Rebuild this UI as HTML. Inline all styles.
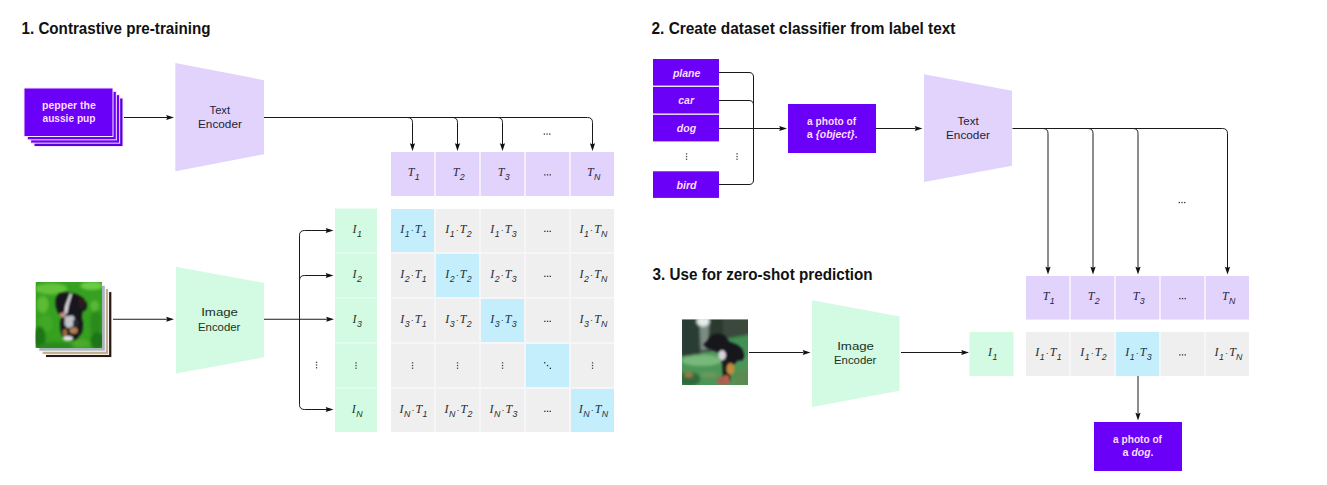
<!DOCTYPE html><html><head><meta charset="utf-8"><style>
html,body{margin:0;padding:0;background:#fff;}
svg{display:block;}
text{font-family:"Liberation Sans",sans-serif;}
.title{font-weight:bold;font-size:15.2px;fill:#111;}
.title2{font-weight:bold;font-size:15.2px;fill:#111;letter-spacing:0.17px;}
.enc{font-size:11.5px;fill:#241d34;}
#ie1a,#ie1b,#ie3a,#ie3b{fill:#1a3322;}
.wb{font-weight:bold;font-size:10.4px;fill:#fadcff;}
.wbi{font-weight:bold;font-style:italic;font-size:10.4px;fill:#fadcff;}
.math{font-family:"Liberation Serif",serif;font-style:italic;font-size:12px;}
.sub{font-family:"Liberation Sans",sans-serif;font-size:8.8px;}
.dot{font-family:"Liberation Sans",sans-serif;font-style:normal;font-size:9px;letter-spacing:0.5px;}
.dots{font-size:9px;fill:#333;}
.vdots{font-size:10px;fill:#333;}
.ln{stroke:#1a1a1a;stroke-width:1;fill:none;}
.ah{fill:#111;}
</style></head><body>
<svg width="1327" height="485" viewBox="0 0 1327 485">
<rect width="1327" height="485" fill="#fff"/>
<text id="t1" x="116.00" y="33.70" class="title" text-anchor="middle" style="font-size:15.8px" textLength="189.00" lengthAdjust="spacingAndGlyphs">1. Contrastive pre-training</text>
<rect x="33.99" y="97.99" width="89" height="48.5" fill="#5a00d8" stroke="#fbe8ff" stroke-width="1"/>
<rect x="30.66" y="94.66" width="89" height="48.5" fill="#6a00f7" stroke="#fbe8ff" stroke-width="1"/>
<rect x="27.33" y="91.33" width="89" height="48.5" fill="#6a00f7" stroke="#fbe8ff" stroke-width="1"/>
<rect x="24.00" y="88.00" width="89" height="48.5" fill="#6a00f7" stroke="#fbe8ff" stroke-width="1"/>
<text id="pp1" x="69.00" y="109.20" class="wb" text-anchor="middle" style="font-size:10.8px" textLength="53.80" lengthAdjust="spacingAndGlyphs">pepper the</text>
<text id="pp2" x="69.00" y="122.40" class="wb" text-anchor="middle" style="font-size:10.8px" textLength="53.00" lengthAdjust="spacingAndGlyphs">aussie pup</text>
<line x1="124" y1="117.5" x2="167" y2="117.5" class="ln"/>
<path d="M174,117.5 L166.2,114.9 L167.2,117.5 L166.2,120.1 Z" class="ah"/>
<path d="M175.3,63.00000000000001 L264.0,80.15 L264.0,154.15 L175.3,171.3 Z" fill="#e1d3fc"/>
<text id="te1a" x="219.80" y="113.50" class="enc" text-anchor="middle" style="font-size:11.7px" textLength="20.40" lengthAdjust="spacingAndGlyphs">Text</text>
<text id="te1b" x="219.95" y="127.80" class="enc" text-anchor="middle" style="font-size:11.7px" textLength="43.90" lengthAdjust="spacingAndGlyphs">Encoder</text>
<path d="M264,117.5 L587.5,117.5 Q592.5,117.5 592.5,122.5 L592.5,145" class="ln"/>
<path d="M407.5,117.5 Q412.5,117.5 412.5,122.5 L412.5,145" class="ln"/>
<path d="M452.5,117.5 Q457.5,117.5 457.5,122.5 L457.5,145" class="ln"/>
<path d="M497.5,117.5 Q502.5,117.5 502.5,122.5 L502.5,145" class="ln"/>
<path d="M412.5,151 L409.9,143.2 L412.5,144.2 L415.1,143.2 Z" class="ah"/>
<path d="M457.5,151 L454.9,143.2 L457.5,144.2 L460.1,143.2 Z" class="ah"/>
<path d="M502.5,151 L499.9,143.2 L502.5,144.2 L505.1,143.2 Z" class="ah"/>
<path d="M592.5,151 L589.9,143.2 L592.5,144.2 L595.1,143.2 Z" class="ah"/>
<rect x="543.70" y="133.40" width="1.3" height="1.3" fill="#333"/>
<rect x="546.40" y="133.40" width="1.3" height="1.3" fill="#333"/>
<rect x="549.10" y="133.40" width="1.3" height="1.3" fill="#333"/>
<rect x="391" y="152" width="223" height="44" fill="#f4effd"/>
<rect x="391" y="152" width="43" height="44" fill="#e1d3fc"/>
<g fill="#2b2342"><text x="413.7" y="176.4" class="math" text-anchor="middle">T<tspan dy="3.8" dx="0.3" class="sub">1</tspan></text></g>
<rect x="436" y="152" width="43" height="44" fill="#e1d3fc"/>
<g fill="#2b2342"><text x="458.7" y="176.4" class="math" text-anchor="middle">T<tspan dy="3.8" dx="0.3" class="sub">2</tspan></text></g>
<rect x="481" y="152" width="43" height="44" fill="#e1d3fc"/>
<g fill="#2b2342"><text x="503.7" y="176.4" class="math" text-anchor="middle">T<tspan dy="3.8" dx="0.3" class="sub">3</tspan></text></g>
<rect x="526" y="152" width="43" height="44" fill="#e1d3fc"/>
<rect x="544.20" y="174.20" width="1.3" height="1.3" fill="#333"/>
<rect x="546.90" y="174.20" width="1.3" height="1.3" fill="#333"/>
<rect x="549.60" y="174.20" width="1.3" height="1.3" fill="#333"/>
<rect x="571" y="152" width="43" height="44" fill="#e1d3fc"/>
<g fill="#2b2342"><text x="593.7" y="176.4" class="math" text-anchor="middle">T<tspan dy="3.8" dx="0.3" class="sub">N</tspan></text></g>
<rect x="335" y="208.5" width="42" height="223.5" fill="#d3fae3"/>
<rect x="335" y="252.3" width="42" height="1.2" fill="#eafdf1"/>
<rect x="335" y="297.3" width="42" height="1.2" fill="#eafdf1"/>
<rect x="335" y="342.3" width="42" height="1.2" fill="#eafdf1"/>
<rect x="335" y="387.3" width="42" height="1.2" fill="#eafdf1"/>
<g fill="#1c3526"><text x="357.2" y="232.9" class="math" text-anchor="middle">I<tspan dy="3.8" dx="0.6" class="sub">1</tspan></text></g>
<g fill="#1c3526"><text x="357.2" y="277.9" class="math" text-anchor="middle">I<tspan dy="3.8" dx="0.6" class="sub">2</tspan></text></g>
<g fill="#1c3526"><text x="357.2" y="322.9" class="math" text-anchor="middle">I<tspan dy="3.8" dx="0.6" class="sub">3</tspan></text></g>
<rect x="355.40" y="362.20" width="1.3" height="1.3" fill="#444"/>
<rect x="355.40" y="364.90" width="1.3" height="1.3" fill="#444"/>
<rect x="355.40" y="367.60" width="1.3" height="1.3" fill="#444"/>
<g fill="#1c3526"><text x="357.2" y="412.9" class="math" text-anchor="middle">I<tspan dy="3.8" dx="0.6" class="sub">N</tspan></text></g>
<rect x="391" y="209" width="223" height="223" fill="#f6f6f8"/>
<rect x="391" y="209" width="43" height="43" fill="#c5eefd"/>
<g fill="#15323f"><text x="413.5" y="232.9" class="math" text-anchor="middle">I<tspan dy="3.8" dx="0.4" class="sub">1</tspan><tspan dy="-3.8" dx="1.2" class="dot">·</tspan><tspan dx="0.6">T</tspan><tspan dy="3.8" dx="0.3" class="sub">1</tspan></text></g>
<rect x="436" y="209" width="43" height="43" fill="#efefef"/>
<g fill="#2a2a2e"><text x="458.5" y="232.9" class="math" text-anchor="middle">I<tspan dy="3.8" dx="0.4" class="sub">1</tspan><tspan dy="-3.8" dx="1.2" class="dot">·</tspan><tspan dx="0.6">T</tspan><tspan dy="3.8" dx="0.3" class="sub">2</tspan></text></g>
<rect x="481" y="209" width="43" height="43" fill="#efefef"/>
<g fill="#2a2a2e"><text x="503.5" y="232.9" class="math" text-anchor="middle">I<tspan dy="3.8" dx="0.4" class="sub">1</tspan><tspan dy="-3.8" dx="1.2" class="dot">·</tspan><tspan dx="0.6">T</tspan><tspan dy="3.8" dx="0.3" class="sub">3</tspan></text></g>
<rect x="526" y="209" width="43" height="43" fill="#efefef"/>
<rect x="544.20" y="230.70" width="1.3" height="1.3" fill="#333"/>
<rect x="546.90" y="230.70" width="1.3" height="1.3" fill="#333"/>
<rect x="549.60" y="230.70" width="1.3" height="1.3" fill="#333"/>
<rect x="571" y="209" width="43" height="43" fill="#efefef"/>
<g fill="#2a2a2e"><text x="593.5" y="232.9" class="math" text-anchor="middle">I<tspan dy="3.8" dx="0.4" class="sub">1</tspan><tspan dy="-3.8" dx="1.2" class="dot">·</tspan><tspan dx="0.6">T</tspan><tspan dy="3.8" dx="0.3" class="sub">N</tspan></text></g>
<rect x="391" y="254" width="43" height="43" fill="#efefef"/>
<g fill="#2a2a2e"><text x="413.5" y="277.9" class="math" text-anchor="middle">I<tspan dy="3.8" dx="0.4" class="sub">2</tspan><tspan dy="-3.8" dx="1.2" class="dot">·</tspan><tspan dx="0.6">T</tspan><tspan dy="3.8" dx="0.3" class="sub">1</tspan></text></g>
<rect x="436" y="254" width="43" height="43" fill="#c5eefd"/>
<g fill="#15323f"><text x="458.5" y="277.9" class="math" text-anchor="middle">I<tspan dy="3.8" dx="0.4" class="sub">2</tspan><tspan dy="-3.8" dx="1.2" class="dot">·</tspan><tspan dx="0.6">T</tspan><tspan dy="3.8" dx="0.3" class="sub">2</tspan></text></g>
<rect x="481" y="254" width="43" height="43" fill="#efefef"/>
<g fill="#2a2a2e"><text x="503.5" y="277.9" class="math" text-anchor="middle">I<tspan dy="3.8" dx="0.4" class="sub">2</tspan><tspan dy="-3.8" dx="1.2" class="dot">·</tspan><tspan dx="0.6">T</tspan><tspan dy="3.8" dx="0.3" class="sub">3</tspan></text></g>
<rect x="526" y="254" width="43" height="43" fill="#efefef"/>
<rect x="544.20" y="275.70" width="1.3" height="1.3" fill="#333"/>
<rect x="546.90" y="275.70" width="1.3" height="1.3" fill="#333"/>
<rect x="549.60" y="275.70" width="1.3" height="1.3" fill="#333"/>
<rect x="571" y="254" width="43" height="43" fill="#efefef"/>
<g fill="#2a2a2e"><text x="593.5" y="277.9" class="math" text-anchor="middle">I<tspan dy="3.8" dx="0.4" class="sub">2</tspan><tspan dy="-3.8" dx="1.2" class="dot">·</tspan><tspan dx="0.6">T</tspan><tspan dy="3.8" dx="0.3" class="sub">N</tspan></text></g>
<rect x="391" y="299" width="43" height="43" fill="#efefef"/>
<g fill="#2a2a2e"><text x="413.5" y="322.9" class="math" text-anchor="middle">I<tspan dy="3.8" dx="0.4" class="sub">3</tspan><tspan dy="-3.8" dx="1.2" class="dot">·</tspan><tspan dx="0.6">T</tspan><tspan dy="3.8" dx="0.3" class="sub">1</tspan></text></g>
<rect x="436" y="299" width="43" height="43" fill="#efefef"/>
<g fill="#2a2a2e"><text x="458.5" y="322.9" class="math" text-anchor="middle">I<tspan dy="3.8" dx="0.4" class="sub">3</tspan><tspan dy="-3.8" dx="1.2" class="dot">·</tspan><tspan dx="0.6">T</tspan><tspan dy="3.8" dx="0.3" class="sub">2</tspan></text></g>
<rect x="481" y="299" width="43" height="43" fill="#c5eefd"/>
<g fill="#15323f"><text x="503.5" y="322.9" class="math" text-anchor="middle">I<tspan dy="3.8" dx="0.4" class="sub">3</tspan><tspan dy="-3.8" dx="1.2" class="dot">·</tspan><tspan dx="0.6">T</tspan><tspan dy="3.8" dx="0.3" class="sub">3</tspan></text></g>
<rect x="526" y="299" width="43" height="43" fill="#efefef"/>
<rect x="544.20" y="320.70" width="1.3" height="1.3" fill="#333"/>
<rect x="546.90" y="320.70" width="1.3" height="1.3" fill="#333"/>
<rect x="549.60" y="320.70" width="1.3" height="1.3" fill="#333"/>
<rect x="571" y="299" width="43" height="43" fill="#efefef"/>
<g fill="#2a2a2e"><text x="593.5" y="322.9" class="math" text-anchor="middle">I<tspan dy="3.8" dx="0.4" class="sub">3</tspan><tspan dy="-3.8" dx="1.2" class="dot">·</tspan><tspan dx="0.6">T</tspan><tspan dy="3.8" dx="0.3" class="sub">N</tspan></text></g>
<rect x="391" y="344" width="43" height="43" fill="#efefef"/>
<rect x="411.90" y="362.20" width="1.3" height="1.3" fill="#444"/>
<rect x="411.90" y="364.90" width="1.3" height="1.3" fill="#444"/>
<rect x="411.90" y="367.60" width="1.3" height="1.3" fill="#444"/>
<rect x="436" y="344" width="43" height="43" fill="#efefef"/>
<rect x="456.90" y="362.20" width="1.3" height="1.3" fill="#444"/>
<rect x="456.90" y="364.90" width="1.3" height="1.3" fill="#444"/>
<rect x="456.90" y="367.60" width="1.3" height="1.3" fill="#444"/>
<rect x="481" y="344" width="43" height="43" fill="#efefef"/>
<rect x="501.90" y="362.20" width="1.3" height="1.3" fill="#444"/>
<rect x="501.90" y="364.90" width="1.3" height="1.3" fill="#444"/>
<rect x="501.90" y="367.60" width="1.3" height="1.3" fill="#444"/>
<rect x="526" y="344" width="43" height="43" fill="#c5eefd"/>
<rect x="544.10" y="362.10" width="1.3" height="1.3" fill="#224"/>
<rect x="546.90" y="364.90" width="1.3" height="1.3" fill="#224"/>
<rect x="549.70" y="367.70" width="1.3" height="1.3" fill="#224"/>
<rect x="571" y="344" width="43" height="43" fill="#efefef"/>
<rect x="591.90" y="362.20" width="1.3" height="1.3" fill="#444"/>
<rect x="591.90" y="364.90" width="1.3" height="1.3" fill="#444"/>
<rect x="591.90" y="367.60" width="1.3" height="1.3" fill="#444"/>
<rect x="391" y="389" width="43" height="43" fill="#efefef"/>
<g fill="#2a2a2e"><text x="413.5" y="412.9" class="math" text-anchor="middle">I<tspan dy="3.8" dx="0.4" class="sub">N</tspan><tspan dy="-3.8" dx="1.2" class="dot">·</tspan><tspan dx="0.6">T</tspan><tspan dy="3.8" dx="0.3" class="sub">1</tspan></text></g>
<rect x="436" y="389" width="43" height="43" fill="#efefef"/>
<g fill="#2a2a2e"><text x="458.5" y="412.9" class="math" text-anchor="middle">I<tspan dy="3.8" dx="0.4" class="sub">N</tspan><tspan dy="-3.8" dx="1.2" class="dot">·</tspan><tspan dx="0.6">T</tspan><tspan dy="3.8" dx="0.3" class="sub">2</tspan></text></g>
<rect x="481" y="389" width="43" height="43" fill="#efefef"/>
<g fill="#2a2a2e"><text x="503.5" y="412.9" class="math" text-anchor="middle">I<tspan dy="3.8" dx="0.4" class="sub">N</tspan><tspan dy="-3.8" dx="1.2" class="dot">·</tspan><tspan dx="0.6">T</tspan><tspan dy="3.8" dx="0.3" class="sub">3</tspan></text></g>
<rect x="526" y="389" width="43" height="43" fill="#efefef"/>
<rect x="544.20" y="410.70" width="1.3" height="1.3" fill="#333"/>
<rect x="546.90" y="410.70" width="1.3" height="1.3" fill="#333"/>
<rect x="549.60" y="410.70" width="1.3" height="1.3" fill="#333"/>
<rect x="571" y="389" width="43" height="43" fill="#c5eefd"/>
<g fill="#15323f"><text x="593.5" y="412.9" class="math" text-anchor="middle">I<tspan dy="3.8" dx="0.4" class="sub">N</tspan><tspan dy="-3.8" dx="1.2" class="dot">·</tspan><tspan dx="0.6">T</tspan><tspan dy="3.8" dx="0.3" class="sub">N</tspan></text></g>
<defs><filter id="bl" x="-20%" y="-20%" width="140%" height="140%"><feGaussianBlur stdDeviation="1.8"/></filter><filter id="bl2" x="-20%" y="-20%" width="140%" height="140%"><feGaussianBlur stdDeviation="0.9"/></filter><clipPath id="cp1"><rect x="35.5" y="282" width="66.5" height="66"/></clipPath><clipPath id="cp2"><rect x="682" y="319.5" width="66" height="65.5"/></clipPath></defs>
<rect x="45.4" y="291.6" width="66.5" height="66" fill="#2a1a12" stroke="#fff" stroke-width="1"/>
<rect x="42.1" y="288.4" width="66.5" height="66" fill="#c4ae8e" stroke="#fff" stroke-width="1"/>
<rect x="38.8" y="285.2" width="66.5" height="66" fill="#aab4bc" stroke="#fff" stroke-width="1"/>
<rect x="35.5" y="282" width="66.5" height="66" fill="#fff"/>
<g clip-path="url(#cp1)">
<rect x="35.5" y="282" width="66.5" height="66" fill="#36a020"/>
<g filter="url(#bl)">
<ellipse cx="51.3" cy="288.7" rx="15.9" ry="5.8" fill="#62c23a"/>
<ellipse cx="91.7" cy="285.8" rx="11.5" ry="4.3" fill="#6ccc44"/>
<ellipse cx="42.7" cy="304.5" rx="5.8" ry="8.7" fill="#5cbc34"/>
<ellipse cx="45.5" cy="323.3" rx="7.2" ry="8.7" fill="#40a828"/>
<ellipse cx="39.8" cy="337.7" rx="5.8" ry="11.5" fill="#1f7414"/>
<ellipse cx="96.0" cy="323.3" rx="5.8" ry="14.4" fill="#2c8a1c"/>
<ellipse cx="55.6" cy="346.4" rx="17.3" ry="4.3" fill="#2a8a1a"/>
<ellipse cx="94.6" cy="306.0" rx="4.3" ry="5.8" fill="#58b838"/>
<ellipse cx="81.6" cy="343.5" rx="8.7" ry="4.3" fill="#4caa2c"/>
<ellipse cx="97.5" cy="340.6" rx="7.2" ry="8.7" fill="#1e7418"/>
</g>
<g filter="url(#bl2)">
<polygon points="55.6,298.8 58.5,293.7 65.0,292.3 71.5,292.7 77.3,294.4 83.1,298.0 87.1,303.8 86.2,309.6 82.3,311.7 81.6,317.5 83.1,323.3 82.3,331.9 77.3,338.4 71.5,341.3 63.6,339.9 60.7,331.9 60.0,323.3 61.4,316.8 57.8,312.5 55.6,306.0" fill="#17151b"/>
<polygon points="69.8,293.6 72.1,294.0 68.9,304.5 67.2,313.5 64.0,314.1 65.2,306.0" fill="#d8d8de"/>
<ellipse cx="62.9" cy="314.9" rx="2.9" ry="2.3" fill="#d08a8a"/>
<polygon points="64.6,316.4 73.0,315.5 75.8,320.4 73.0,326.2 67.9,328.3 64.6,324.7" fill="#bfc2ca"/>
<ellipse cx="75.8" cy="323.3" rx="2.9" ry="4.3" fill="#2a2830"/>
<ellipse cx="65.0" cy="332.7" rx="2.3" ry="3.8" fill="#9c6a3e"/>
<ellipse cx="73.7" cy="330.5" rx="4.0" ry="3.2" fill="#b08050"/>
<ellipse cx="67.9" cy="338.4" rx="4.9" ry="2.3" fill="#e2e4e4"/>
<ellipse cx="81.6" cy="303.1" rx="3.2" ry="5.8" fill="#2a1e1c"/>
</g></g>
<line x1="113" y1="319.25" x2="167" y2="319.25" class="ln"/>
<path d="M174,319.25 L166.2,316.65 L167.2,319.25 L166.2,321.85 Z" class="ah"/>
<path d="M176,266.70000000000005 L264,282.90000000000003 L264,357.3 L176,373.5 Z" fill="#d3fae3"/>
<text id="ie1a" x="219.60" y="316.10" class="enc" text-anchor="middle" style="font-size:11.7px" textLength="36.80" lengthAdjust="spacingAndGlyphs">Image</text>
<text id="ie1b" x="219.20" y="330.50" class="enc" text-anchor="middle" style="font-size:11.7px" textLength="42.40" lengthAdjust="spacingAndGlyphs">Encoder</text>
<line x1="264" y1="319.25" x2="327" y2="319.25" class="ln"/>
<path d="M334,319.25 L326.2,316.65 L327.2,319.25 L326.2,321.85 Z" class="ah"/>
<path d="M327,230.5 L304.5,230.5 Q299.5,230.5 299.5,235.5 L299.5,404.5 Q299.5,409.5 304.5,409.5 L327,409.5" class="ln"/>
<path d="M299.5,280.5 Q299.5,275.5 304.5,275.5 L327,275.5" class="ln"/>
<path d="M333.5,230.5 L325.7,227.9 L326.7,230.5 L325.7,233.1 Z" class="ah"/>
<path d="M333.5,275.5 L325.7,272.9 L326.7,275.5 L325.7,278.1 Z" class="ah"/>
<path d="M333.5,409.5 L325.7,406.9 L326.7,409.5 L325.7,412.1 Z" class="ah"/>
<rect x="315.90" y="361.70" width="1.3" height="1.3" fill="#444"/>
<rect x="315.90" y="364.40" width="1.3" height="1.3" fill="#444"/>
<rect x="315.90" y="367.10" width="1.3" height="1.3" fill="#444"/>
<text id="t2" x="803.50" y="34.10" class="title" text-anchor="middle" style="font-size:15.8px" textLength="304.00" lengthAdjust="spacingAndGlyphs">2. Create dataset classifier from label text</text>
<rect x="653" y="59" width="66" height="26.6" fill="#6a00f7"/>
<rect x="653" y="86.9" width="66" height="26.6" fill="#6a00f7"/>
<rect x="653" y="114.8" width="66" height="26.6" fill="#6a00f7"/>
<rect x="653" y="171.3" width="66" height="26.6" fill="#6a00f7"/>
<rect x="685.90" y="153.20" width="1.3" height="1.3" fill="#444"/>
<rect x="685.90" y="155.90" width="1.3" height="1.3" fill="#444"/>
<rect x="685.90" y="158.60" width="1.3" height="1.3" fill="#444"/>
<rect x="736.40" y="153.20" width="1.3" height="1.3" fill="#444"/>
<rect x="736.40" y="155.90" width="1.3" height="1.3" fill="#444"/>
<rect x="736.40" y="158.60" width="1.3" height="1.3" fill="#444"/>
<path d="M719,72.5 L749.0,72.5 Q753.5,72.5 753.5,77.0 L753.5,180.0 Q753.5,184.5 749.0,184.5 L719,184.5" class="ln"/>
<path d="M719,100.5 L749.0,100.5 Q753.5,100.5 753.5,105.0" class="ln"/>
<text id="lp" x="686.65" y="77.00" class="wbi" text-anchor="middle" style="font-size:10.4px" textLength="27.50" lengthAdjust="spacingAndGlyphs">plane</text>
<text id="lc" x="686.15" y="104.00" class="wbi" text-anchor="middle" style="font-size:10.4px" textLength="15.70" lengthAdjust="spacingAndGlyphs">car</text>
<text id="ld" x="686.45" y="131.80" class="wbi" text-anchor="middle" style="font-size:10.4px" textLength="19.30" lengthAdjust="spacingAndGlyphs">dog</text>
<text id="lb" x="686.55" y="188.60" class="wbi" text-anchor="middle" style="font-size:10.4px" textLength="20.10" lengthAdjust="spacingAndGlyphs">bird</text>
<line x1="719" y1="128.5" x2="780" y2="128.5" class="ln"/>
<path d="M787,128.5 L779.2,125.9 L780.2,128.5 L779.2,131.1 Z" class="ah"/>
<rect x="788" y="104" width="88" height="49" fill="#6a00f7"/>
<text id="ph2a" x="831.60" y="125.10" class="wb" text-anchor="middle" style="font-size:10.8px" textLength="49.00" lengthAdjust="spacingAndGlyphs">a photo of</text>
<text id="ph2b" x="832.15" y="138.10" class="wb" text-anchor="middle" style="font-size:10.8px" textLength="50.70" lengthAdjust="spacingAndGlyphs">a <tspan class='wbi'>{object}</tspan>.</text>
<line x1="876" y1="128.5" x2="915.5" y2="128.5" class="ln"/>
<path d="M922.5,128.5 L914.7,125.9 L915.7,128.5 L914.7,131.1 Z" class="ah"/>
<path d="M924,74.30000000000001 L1012,90.65 L1012,165.65 L924,182.0 Z" fill="#e1d3fc"/>
<text id="te2a" x="968.10" y="124.60" class="enc" text-anchor="middle" style="font-size:11.7px" textLength="21.20" lengthAdjust="spacingAndGlyphs">Text</text>
<text id="te2b" x="967.95" y="138.80" class="enc" text-anchor="middle" style="font-size:11.7px" textLength="43.90" lengthAdjust="spacingAndGlyphs">Encoder</text>
<path d="M1012.5,128.5 L1222.5,128.5 Q1227.5,128.5 1227.5,133.5 L1227.5,268" class="ln"/>
<path d="M1043,128.5 Q1048,128.5 1048,133.5 L1048,268" class="ln"/>
<path d="M1088,128.5 Q1093,128.5 1093,133.5 L1093,268" class="ln"/>
<path d="M1133,128.5 Q1138,128.5 1138,133.5 L1138,268" class="ln"/>
<path d="M1048,274.5 L1045.4,266.7 L1048,267.7 L1050.6,266.7 Z" class="ah"/>
<path d="M1093,274.5 L1090.4,266.7 L1093,267.7 L1095.6,266.7 Z" class="ah"/>
<path d="M1138,274.5 L1135.4,266.7 L1138,267.7 L1140.6,266.7 Z" class="ah"/>
<path d="M1227.5,274.5 L1224.9,266.7 L1227.5,267.7 L1230.1,266.7 Z" class="ah"/>
<rect x="1178.70" y="201.90" width="1.3" height="1.3" fill="#333"/>
<rect x="1181.40" y="201.90" width="1.3" height="1.3" fill="#333"/>
<rect x="1184.10" y="201.90" width="1.3" height="1.3" fill="#333"/>
<rect x="1026" y="276" width="223" height="43.5" fill="#f4effd"/>
<rect x="1026" y="276" width="43" height="43.5" fill="#e1d3fc"/>
<g fill="#2b2342"><text x="1048.7" y="300.15" class="math" text-anchor="middle">T<tspan dy="3.8" dx="0.3" class="sub">1</tspan></text></g>
<rect x="1071" y="276" width="43" height="43.5" fill="#e1d3fc"/>
<g fill="#2b2342"><text x="1093.7" y="300.15" class="math" text-anchor="middle">T<tspan dy="3.8" dx="0.3" class="sub">2</tspan></text></g>
<rect x="1116" y="276" width="43" height="43.5" fill="#e1d3fc"/>
<g fill="#2b2342"><text x="1138.7" y="300.15" class="math" text-anchor="middle">T<tspan dy="3.8" dx="0.3" class="sub">3</tspan></text></g>
<rect x="1161" y="276" width="43" height="43.5" fill="#e1d3fc"/>
<rect x="1179.20" y="297.95" width="1.3" height="1.3" fill="#333"/>
<rect x="1181.90" y="297.95" width="1.3" height="1.3" fill="#333"/>
<rect x="1184.60" y="297.95" width="1.3" height="1.3" fill="#333"/>
<rect x="1206" y="276" width="43" height="43.5" fill="#e1d3fc"/>
<g fill="#2b2342"><text x="1228.7" y="300.15" class="math" text-anchor="middle">T<tspan dy="3.8" dx="0.3" class="sub">N</tspan></text></g>
<text id="t3" x="762.60" y="280.20" class="title" text-anchor="middle" style="font-size:15.8px" textLength="220.00" lengthAdjust="spacingAndGlyphs">3. Use for zero-shot prediction</text>
<g clip-path="url(#cp2)">
<rect x="682" y="319.5" width="66" height="66" fill="#4c9658"/>
<g filter="url(#bl)">
<polygon points="680.0,317.0 752.2,317.0 752.2,338.6 727.6,340.1 716.1,350.2 680.0,356.0" fill="#3a4a3c"/>
<polygon points="680.0,317.0 700.2,317.0 700.2,356.0 680.0,356.0" fill="#2a3e34"/>
<polygon points="708.9,317.0 723.3,317.0 723.3,340.1 708.9,345.9" fill="#2c3a2e"/>
<polygon points="699.5,324.2 708.9,324.2 708.1,348.7 700.9,350.2" fill="#7c8c84"/>
<ellipse cx="703.1" cy="321.3" rx="6.5" ry="5.1" fill="#e4ecec"/>
<polygon points="727.6,338.6 752.2,334.3 752.2,356.0 727.6,356.0" fill="#3f9052"/>
<ellipse cx="701.6" cy="360.3" rx="20.2" ry="5.8" fill="#78b87a"/>
<ellipse cx="688.7" cy="379.0" rx="11.5" ry="7.2" fill="#2f6a3a"/>
<ellipse cx="742.0" cy="377.6" rx="8.7" ry="8.7" fill="#5a8a50"/>
<ellipse cx="723.3" cy="380.5" rx="7.2" ry="4.3" fill="#a86050"/>
<ellipse cx="688.7" cy="374.7" rx="4.3" ry="2.9" fill="#9a7a44"/>
<ellipse cx="708.9" cy="374.7" rx="8.7" ry="2.9" fill="#6a9a58"/>
</g>
<g filter="url(#bl2)">
<polygon points="703.1,344.4 707.4,340.8 711.0,335.8 717.5,333.2 724.7,335.5 729.1,341.5 737.7,345.1 742.3,349.0 744.4,356.0 742.3,360.6 737.7,360.6 733.7,364.9 727.6,363.5 723.3,360.3 720.4,354.8 714.6,350.5 707.4,348.2" fill="#17141e"/>
<polygon points="721.8,358.8 729.8,360.3 730.5,380.5 723.3,380.5" fill="#1e1a1e"/>
<ellipse cx="722.1" cy="355.2" rx="3.8" ry="4.9" fill="#d6d2dc"/>
<ellipse cx="730.5" cy="368.9" rx="4.0" ry="5.8" fill="#c48a3a"/>
<ellipse cx="726.2" cy="379.0" rx="3.2" ry="4.0" fill="#b86050"/>
</g></g>
<line x1="749" y1="352.5" x2="803.5" y2="352.5" class="ln"/>
<path d="M810.5,352.5 L802.7,349.9 L803.7,352.5 L802.7,355.1 Z" class="ah"/>
<path d="M812,300.29999999999995 L899.6,316.54999999999995 L899.6,390.75 L812,407.0 Z" fill="#d3fae3"/>
<text id="ie3a" x="855.60" y="349.90" class="enc" text-anchor="middle" style="font-size:11.7px" textLength="36.80" lengthAdjust="spacingAndGlyphs">Image</text>
<text id="ie3b" x="855.20" y="364.30" class="enc" text-anchor="middle" style="font-size:11.7px" textLength="42.40" lengthAdjust="spacingAndGlyphs">Encoder</text>
<line x1="901" y1="352.5" x2="962" y2="352.5" class="ln"/>
<path d="M969,352.5 L961.2,349.9 L962.2,352.5 L961.2,355.1 Z" class="ah"/>
<rect x="969.5" y="332" width="44" height="44" fill="#d3fae3"/>
<g fill="#1c3526"><text x="992.7" y="356.4" class="math" text-anchor="middle">I<tspan dy="3.8" dx="0.6" class="sub">1</tspan></text></g>
<rect x="1026" y="332" width="223" height="44" fill="#f6f6f8"/>
<rect x="1026" y="332" width="43" height="44" fill="#efefef"/>
<g fill="#2a2a2e"><text x="1048.5" y="356.4" class="math" text-anchor="middle">I<tspan dy="3.8" dx="0.4" class="sub">1</tspan><tspan dy="-3.8" dx="1.2" class="dot">·</tspan><tspan dx="0.6">T</tspan><tspan dy="3.8" dx="0.3" class="sub">1</tspan></text></g>
<rect x="1071" y="332" width="43" height="44" fill="#efefef"/>
<g fill="#2a2a2e"><text x="1093.5" y="356.4" class="math" text-anchor="middle">I<tspan dy="3.8" dx="0.4" class="sub">1</tspan><tspan dy="-3.8" dx="1.2" class="dot">·</tspan><tspan dx="0.6">T</tspan><tspan dy="3.8" dx="0.3" class="sub">2</tspan></text></g>
<rect x="1116" y="332" width="43" height="44" fill="#c5eefd"/>
<g fill="#15323f"><text x="1138.5" y="356.4" class="math" text-anchor="middle">I<tspan dy="3.8" dx="0.4" class="sub">1</tspan><tspan dy="-3.8" dx="1.2" class="dot">·</tspan><tspan dx="0.6">T</tspan><tspan dy="3.8" dx="0.3" class="sub">3</tspan></text></g>
<rect x="1161" y="332" width="43" height="44" fill="#efefef"/>
<rect x="1179.20" y="354.20" width="1.3" height="1.3" fill="#333"/>
<rect x="1181.90" y="354.20" width="1.3" height="1.3" fill="#333"/>
<rect x="1184.60" y="354.20" width="1.3" height="1.3" fill="#333"/>
<rect x="1206" y="332" width="43" height="44" fill="#efefef"/>
<g fill="#2a2a2e"><text x="1228.5" y="356.4" class="math" text-anchor="middle">I<tspan dy="3.8" dx="0.4" class="sub">1</tspan><tspan dy="-3.8" dx="1.2" class="dot">·</tspan><tspan dx="0.6">T</tspan><tspan dy="3.8" dx="0.3" class="sub">N</tspan></text></g>
<line x1="1138" y1="376" x2="1138" y2="413.5" class="ln"/>
<path d="M1138,420.5 L1135.4,412.7 L1138,413.7 L1140.6,412.7 Z" class="ah"/>
<rect x="1094" y="422" width="88" height="49" fill="#6a00f7"/>
<text id="ph3a" x="1137.55" y="443.10" class="wb" text-anchor="middle" style="font-size:10.8px" textLength="48.90" lengthAdjust="spacingAndGlyphs">a photo of</text>
<text id="ph3b" x="1138.00" y="456.10" class="wb" text-anchor="middle" style="font-size:10.8px" textLength="31.00" lengthAdjust="spacingAndGlyphs">a <tspan class='wbi'>dog</tspan>.</text>
</svg></body></html>
